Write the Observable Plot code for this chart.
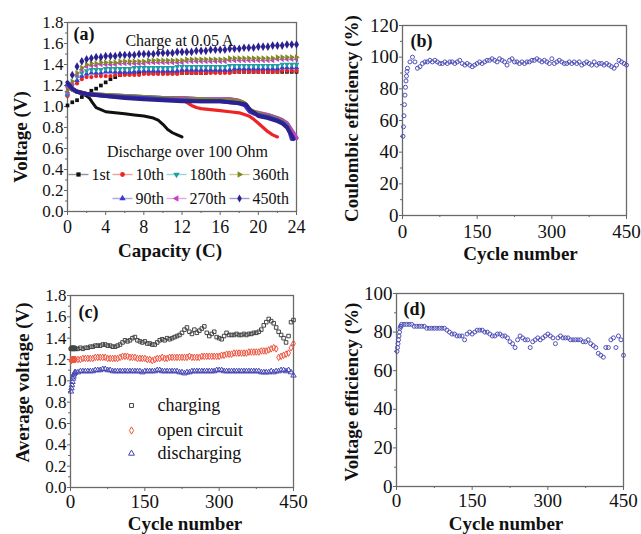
<!DOCTYPE html>
<html><head><meta charset="utf-8">
<script src="https://cdn.jsdelivr.net/npm/d3@7"></script>
<script src="https://cdn.jsdelivr.net/npm/@observablehq/plot@0.6"></script>
<style>
body{margin:0;background:#fff;}
#wrap{position:relative;width:641px;height:534px;overflow:hidden;background:#fff;}
#wrap svg{position:absolute;}
</style></head><body><div id="wrap"></div>
<script>
// ---------------- DATA ----------------
// Panel (a): charge curves sampled every 0.5 C
const capGrid = d3.range(0, 24.01, 0.5);
const chg1st = [1.01,1.04,1.06,1.09,1.12,1.15,1.17,1.20,1.23,1.26,
  1.28,1.30,1.31,1.31,1.32,1.32,1.32,1.32,1.32,1.32,
  1.32,1.32,1.32,1.32,1.32,1.32,1.32,1.32,1.32,1.32,
  1.33,1.33,1.33,1.33,1.33,1.33,1.33,1.33,1.33,1.33,
  1.33,1.33,1.33,1.33,1.33,1.33,1.33,1.33,1.33];
const chg10th = [1.10,1.16,1.22,1.26,1.28,1.28,1.29,1.29,1.29,1.29,
  1.30,1.30,1.30,1.30,1.30,1.30,1.31,1.31,1.31,1.31,
  1.31,1.31,1.31,1.31,1.32,1.32,1.32,1.32,1.32,1.32,
  1.32,1.32,1.32,1.32,1.32,1.33,1.33,1.33,1.33,1.33,
  1.33,1.33,1.33,1.33,1.33,1.34,1.34,1.34,1.34];
const chg90th = [1.12,1.18,1.25,1.29,1.31,1.32,1.32,1.32,1.33,1.33,
  1.33,1.33,1.33,1.33,1.33,1.34,1.34,1.34,1.34,1.34,
  1.34,1.34,1.34,1.34,1.35,1.35,1.35,1.35,1.35,1.35,
  1.35,1.35,1.35,1.35,1.35,1.36,1.36,1.36,1.36,1.36,
  1.36,1.36,1.36,1.36,1.36,1.37,1.37,1.37,1.37];
const chg180th = [1.12,1.20,1.28,1.32,1.34,1.35,1.35,1.35,1.36,1.36,
  1.36,1.36,1.36,1.36,1.37,1.37,1.37,1.37,1.37,1.37,
  1.37,1.37,1.37,1.38,1.38,1.38,1.38,1.38,1.38,1.38,
  1.38,1.38,1.38,1.38,1.39,1.39,1.39,1.39,1.39,1.39,
  1.39,1.39,1.39,1.39,1.39,1.40,1.40,1.40,1.40];
const chg270th = [1.14,1.22,1.30,1.35,1.38,1.39,1.39,1.40,1.40,1.40,
  1.40,1.41,1.41,1.41,1.41,1.41,1.41,1.42,1.42,1.42,
  1.42,1.42,1.42,1.42,1.42,1.43,1.43,1.43,1.43,1.43,
  1.43,1.43,1.43,1.43,1.44,1.44,1.44,1.44,1.44,1.44,
  1.44,1.44,1.44,1.44,1.45,1.45,1.45,1.45,1.45];
const chg360th = [1.16,1.24,1.32,1.37,1.40,1.41,1.41,1.42,1.42,1.42,
  1.42,1.43,1.43,1.43,1.43,1.43,1.43,1.44,1.44,1.44,
  1.44,1.44,1.44,1.44,1.44,1.45,1.45,1.45,1.45,1.45,
  1.45,1.45,1.45,1.45,1.46,1.46,1.46,1.46,1.46,1.46,
  1.46,1.46,1.46,1.46,1.47,1.47,1.47,1.47,1.47];
const chg450th = [1.20,1.30,1.38,1.43,1.45,1.46,1.47,1.47,1.48,1.48,
  1.48,1.49,1.49,1.49,1.49,1.50,1.50,1.50,1.50,1.51,
  1.51,1.51,1.51,1.52,1.52,1.52,1.52,1.53,1.53,1.53,
  1.54,1.54,1.54,1.54,1.55,1.55,1.55,1.56,1.56,1.56,
  1.57,1.57,1.57,1.58,1.58,1.58,1.59,1.59,1.59];

// Panel (a): discharge curves [capacity, voltage]
const dis1st = [[0,1.21],[0.5,1.17],[1,1.14],[1.5,1.12],[2,1.10],[2.3,1.08],[2.6,1.04],[3,0.99],[3.5,0.97],[4,0.95],[5,0.94],[6,0.93],[7,0.92],[8,0.91],[8.5,0.90],[9,0.89],[9.5,0.87],[10,0.83],[10.5,0.78],[11,0.75],[11.5,0.73],[12,0.71]];
const dis10th = [[0,1.20],[0.5,1.17],[1,1.15],[2,1.12],[3,1.11],[4,1.10],[6,1.09],[8,1.08],[10,1.07],[12,1.06],[12.5,1.04],[13,1.01],[13.5,0.99],[14,0.98],[15,0.97],[16,0.96],[17,0.95],[18,0.94],[19,0.91],[19.5,0.88],[20,0.84],[20.5,0.80],[21,0.76],[21.5,0.73],[22,0.71]];
const dis90th = [[0,1.21],[0.5,1.17],[1,1.14],[2,1.12],[4,1.10],[6,1.09],[8,1.08],[10,1.07],[12,1.06],[14,1.05],[16,1.05],[17,1.04],[18,1.03],[18.6,1.01],[19.1,0.95],[19.6,0.93],[20,0.92],[21,0.90],[22,0.87],[22.5,0.85],[23,0.81],[23.3,0.75],[23.5,0.69]];
const dis180th = [[0,1.19],[1,1.14],[2,1.12],[4,1.11],[6,1.10],[8,1.09],[10,1.08],[12,1.08],[14,1.07],[16,1.07],[17,1.07],[18,1.05],[18.6,1.02],[19.1,0.96],[19.6,0.94],[20,0.93],[21,0.92],[22,0.89],[22.5,0.87],[23,0.84],[23.5,0.77],[24,0.70]];
const dis270th = [[0,1.19],[0.5,1.16],[1,1.14],[2,1.12],[4,1.11],[6,1.10],[8,1.09],[10,1.08],[12,1.08],[14,1.07],[16,1.07],[17,1.07],[17.8,1.06],[18.4,1.04],[18.9,0.98],[19.4,0.95],[20,0.94],[21,0.92],[22,0.89],[22.5,0.87],[23,0.84],[23.5,0.77],[24,0.70]];
const dis360th = [[0,1.20],[0.5,1.16],[1,1.14],[2,1.12],[4,1.11],[6,1.10],[8,1.09],[10,1.08],[12,1.07],[14,1.07],[16,1.06],[17,1.06],[18,1.05],[18.6,1.03],[19.1,0.97],[19.6,0.95],[20,0.93],[21,0.91],[22,0.88],[22.5,0.86],[23,0.82],[23.3,0.76],[23.6,0.70]];
const dis450th = [[0,1.23],[0.5,1.17],[1,1.14],[2,1.12],[3,1.11],[4,1.10],[6,1.08],[8,1.07],[10,1.06],[12,1.05],[14,1.05],[16,1.05],[17,1.04],[18,1.03],[18.7,1.02],[19.2,0.96],[19.6,0.94],[20,0.91],[21,0.89],[22,0.86],[22.5,0.84],[23,0.80],[23.4,0.74],[23.7,0.69]];

const seriesNames = ["1st","10th","90th","180th","270th","360th","450th"];
const chargeSets = [chg1st, chg10th, chg90th, chg180th, chg270th, chg360th, chg450th];
const dischargeSets = [dis1st, dis10th, dis90th, dis180th, dis270th, dis360th, dis450th];

// Panels (b)-(d): cycle number grid
const cycles = [1,2,3,4,5,6,7,8,9,10].concat(d3.range(15, 451, 5));
const coulombic = [50,56,63,70,76,81,85,88,91,93,
  97,100,97,93,94,96,97,97,98,97,
  98,97,96,96,97,96,97,97,96,97,
  98,96,95,96,95,94,95,96,97,96,
  97,98,98,99,98,97,99,98,97,95,
  98,99,97,97,96,97,96,97,97,98,
  98,99,98,97,98,97,96,99,96,97,
  98,97,96,96,97,96,97,96,97,95,
  96,97,96,95,97,95,96,96,95,96,
  95,94,93,95,98,97,96,95];
const vCharging = [1.30,1.30,1.31,1.30,1.31,1.30,1.30,1.31,1.30,1.30,
  1.30,1.31,1.30,1.31,1.31,1.32,1.32,1.33,1.33,1.33,
  1.34,1.34,1.33,1.33,1.32,1.32,1.33,1.34,1.36,1.38,
  1.37,1.38,1.40,1.41,1.38,1.37,1.36,1.37,1.35,1.35,
  1.34,1.34,1.36,1.38,1.39,1.38,1.40,1.39,1.40,1.41,
  1.42,1.43,1.45,1.48,1.50,1.46,1.44,1.48,1.45,1.47,
  1.49,1.51,1.45,1.42,1.44,1.46,1.41,1.40,1.39,1.42,
  1.45,1.43,1.43,1.43,1.44,1.43,1.43,1.44,1.43,1.44,
  1.44,1.45,1.45,1.46,1.48,1.52,1.55,1.58,1.56,1.54,
  1.50,1.46,1.43,1.40,1.36,1.42,1.55,1.57];
const vOpen = [1.19,1.19,1.20,1.20,1.20,1.20,1.20,1.20,1.20,1.20,
  1.20,1.20,1.21,1.21,1.21,1.21,1.21,1.22,1.22,1.22,
  1.22,1.22,1.21,1.21,1.21,1.21,1.21,1.22,1.23,1.23,
  1.23,1.22,1.22,1.22,1.21,1.21,1.21,1.21,1.20,1.20,
  1.19,1.20,1.21,1.21,1.22,1.21,1.21,1.22,1.22,1.22,
  1.22,1.22,1.22,1.22,1.22,1.23,1.22,1.22,1.22,1.22,
  1.23,1.23,1.23,1.23,1.23,1.23,1.23,1.23,1.24,1.24,
  1.25,1.25,1.25,1.26,1.26,1.26,1.26,1.26,1.26,1.27,
  1.27,1.27,1.27,1.27,1.28,1.28,1.28,1.29,1.30,1.31,
  1.30,1.22,1.23,1.24,1.25,1.26,1.31,1.35];
const vDischarging = [0.90,0.93,0.96,0.99,1.02,1.04,1.06,1.07,1.08,1.08,
  1.08,1.09,1.09,1.09,1.09,1.09,1.09,1.10,1.10,1.10,
  1.11,1.11,1.10,1.10,1.09,1.09,1.09,1.09,1.09,1.09,
  1.09,1.09,1.09,1.09,1.09,1.09,1.08,1.09,1.09,1.09,
  1.09,1.09,1.10,1.10,1.09,1.09,1.09,1.09,1.09,1.09,
  1.09,1.08,1.08,1.07,1.08,1.08,1.09,1.09,1.09,1.09,
  1.09,1.09,1.09,1.09,1.09,1.09,1.10,1.10,1.10,1.09,
  1.09,1.09,1.09,1.09,1.09,1.09,1.09,1.09,1.09,1.09,
  1.09,1.09,1.09,1.09,1.08,1.08,1.08,1.08,1.09,1.08,
  1.09,1.09,1.10,1.10,1.09,1.10,1.08,1.05];
const voltEff = [70,72,74,76,78,80,82,83,83,84,
  84,84,84,84,83,83,83,83,83,82,
  82,82,82,82,82,82,82,81,80,79,
  79,78,78,78,76,79,80,79,80,81,
  81,81,80,80,79,78,78,79,79,78,
  78,77,75,74,72,76,78,77,76,76,
  72,75,76,77,76,77,78,79,78,77,
  74,77,78,77,77,77,76,76,76,76,
  76,75,75,76,74,73,72,69,68,67,
  72,72,76,77,72,78,76,68];

// tick values
const xTicksA = [0,4,8,12,16,20,24], xMinorA = [2,6,10,14,18,22];
const yTicksV = [0,0.2,0.4,0.6,0.8,1.0,1.2,1.4,1.6,1.8], yMinorV = [0.1,0.3,0.5,0.7,0.9,1.1,1.3,1.5,1.7];
const xTicksCyc = [0,150,300,450], xMinorCyc = [75,225,375];
const yTicksB = [0,20,40,60,80,100,120], yMinorB = [10,30,50,70,90,110];
const yTicksD = [0,20,40,60,80,100], yMinorD = [10,30,50,70,90];

// ---------------- STYLES ----------------
const FONT = '"Liberation Serif","Times New Roman",serif';
const styleA = {
  "1st":   {color:"#111111", symbol:"square",   rotate:0,   col:0, row:0},
  "10th":  {color:"#ee2424", symbol:"circle",   rotate:0,   col:1, row:0},
  "90th":  {color:"#3a3ad0", symbol:"triangle", rotate:0,   col:1, row:1},
  "180th": {color:"#1f9f9f", symbol:"triangle", rotate:180, col:2, row:0},
  "270th": {color:"#c440c4", symbol:"triangle", rotate:-90, col:2, row:1},
  "360th": {color:"#808a20", symbol:"triangle", rotate:90,  col:3, row:0},
  "450th": {color:"#2c228f", symbol:"diamond",  rotate:0,   col:3, row:1}
};
const legendColA = [11, 55, 109, 172];
const legendRowA = [152, 176];
const hline = {draw(ctx){ ctx.moveTo(-10,0); ctx.lineTo(10,0); }};

const cycSeries = [
  {name:"charging", values:vCharging, color:"#444444", symbol:"square"},
  {name:"open circuit", values:vOpen, color:"#ee5540", symbol:"diamond"},
  {name:"discharging", values:vDischarging, color:"#4646b4", symbol:"triangle"}
];
const legendRowC = [110, 135, 158];
const blueDot = "#5050b8";

// ---------------- PANEL BUILDER ----------------
const wrap = document.getElementById("wrap");
function panel(cfg){
  const marks = [
    Plot.frame({stroke:"#6a6a6a", strokeWidth:1.3}),
    Plot.axisX(cfg.xMinor, {tickSize:2, tickFormat:()=>"", label:null, stroke:"#666"}),
    Plot.axisY(cfg.yMinor, {tickSize:2, tickFormat:()=>"", label:null, stroke:"#666"}),
    Plot.axisX(cfg.xTicks, {tickSize:4, tickPadding:cfg.xPad, fontSize:cfg.xFont, label:null, stroke:"#666", tickFormat:d=>String(d)}),
    Plot.axisY(cfg.yTicks, {tickSize:3, tickPadding:1, fontSize:cfg.yFont, label:null, stroke:"#666", tickFormat:cfg.yFmt}),
    ...cfg.marks,
    Plot.text([cfg.xTitle], {text:d=>d, frameAnchor:"bottom", textAnchor:"middle", lineAnchor:"middle", dx:cfg.xt[0], dy:cfg.xt[1], fontSize:19, fontWeight:"bold", ariaLabel:"x-title"}),
    Plot.text([cfg.yTitle], {text:d=>d, frameAnchor:"left", textAnchor:"middle", lineAnchor:"middle", rotate:-90, dx:cfg.yt[0], dy:cfg.yt[1], fontSize:19, fontWeight:"bold", ariaLabel:"y-title"}),
    Plot.text([cfg.tag], {text:d=>d, frameAnchor:"top-left", textAnchor:"start", lineAnchor:"middle", dx:cfg.tagPos[0], dy:cfg.tagPos[1], fontSize:18, fontWeight:"bold"})
  ];
  const svg = Plot.plot({
    width: cfg.w, height: cfg.h,
    marginTop: cfg.m[0], marginRight: cfg.m[1], marginBottom: cfg.m[2], marginLeft: cfg.m[3],
    x: {domain: cfg.xDomain},
    y: {domain: cfg.yDomain},
    style: {fontFamily: FONT, fontSize: "17px", color: "#111", background: "transparent", overflow: "visible"},
    marks
  });
  svg.style.left = cfg.left + "px";
  svg.style.top = cfg.top + "px";
  const xt = svg.querySelector('g[aria-label="x-title"] text');
  if (xt && cfg.xLen) { xt.setAttribute("textLength", cfg.xLen); xt.setAttribute("lengthAdjust", "spacingAndGlyphs"); }
  const yt = svg.querySelector('g[aria-label="y-title"] text');
  if (yt && cfg.yLen) { yt.setAttribute("textLength", cfg.yLen); yt.setAttribute("lengthAdjust", "spacingAndGlyphs"); }
  wrap.appendChild(svg);
}

// ---------------- PANEL (a) ----------------
const marksA = [];
seriesNames.forEach((name, k) => {
  const s = styleA[name];
  const pts = capGrid.map((c, i) => ({cap: c, v: chargeSets[k][i]}));
  marksA.push(Plot.dot(pts, {x:"cap", y:"v", symbol:s.symbol, rotate:s.rotate, fill:s.color, r: s.symbol === "diamond" ? 2.6 : 2.1}));
});
const lineOrder = ["1st","10th","180th","270th","360th","90th","450th"];
lineOrder.forEach(name => {
  const k = seriesNames.indexOf(name);
  const s = styleA[name];
  marksA.push(Plot.line(dischargeSets[k], {x:d=>d[0], y:d=>d[1], stroke:s.color, strokeWidth: name === "1st" ? 3 : (name === "10th" ? 3.2 : 4), strokeLinejoin:"round"}));
});
marksA.push(Plot.text(["Charge at 0.05 A"], {text:d=>d, frameAnchor:"top-left", textAnchor:"middle", lineAnchor:"middle", dx:112, dy:18, fontSize:16}));
marksA.push(Plot.text(["Discharge over 100 Ohm"], {text:d=>d, frameAnchor:"top-left", textAnchor:"middle", lineAnchor:"middle", dx:120, dy:129, fontSize:16}));
seriesNames.forEach(name => {
  const s = styleA[name];
  const dx = legendColA[s.col], dy = legendRowA[s.row];
  marksA.push(Plot.dot([name], {frameAnchor:"top-left", dx, dy, symbol:hline, stroke:s.color, strokeWidth:1.4, strokeOpacity:0.45}));
  marksA.push(Plot.dot([name], {frameAnchor:"top-left", dx, dy, symbol:s.symbol, rotate:s.rotate, fill:s.color, r:2.4}));
  marksA.push(Plot.text([name], {text:d=>d, frameAnchor:"top-left", textAnchor:"start", lineAnchor:"middle", dx:dx + 13, dy, fontSize:16}));
});
panel({left:0, top:0, w:320, h:268, m:[22,24,57,67], xDomain:[0,24], yDomain:[0,1.8],
  xTicks:xTicksA, xMinor:xMinorA, yTicks:yTicksV, yMinor:yMinorV, yFmt:d3.format(".1f"),
  xFont:18, yFont:17, xPad:5,
  xTitle:"Capacity (C)", xt:[-12,39], xLen:115,
  yTitle:"Voltage (V)", yt:[-47,20], yLen:136,
  tag:"(a)", tagPos:[6,12], marks:marksA});

// ---------------- PANEL (b) ----------------
const ptsB = cycles.map((c, i) => ({cycle:c, ce:coulombic[i]}));
panel({left:320, top:0, w:321, h:268, m:[25,15,53,82], xDomain:[0,450], yDomain:[0,120],
  xTicks:xTicksCyc, xMinor:xMinorCyc, yTicks:yTicksB, yMinor:yMinorB, yFmt:d=>String(d),
  xFont:19, yFont:19, xPad:5,
  xTitle:"Cycle number", xt:[6,38], xLen:107,
  yTitle:"Coulombic efficiency (%)", yt:[-51,-2], yLen:207,
  tag:"(b)", tagPos:[8,16],
  marks:[Plot.dot(ptsB, {x:"cycle", y:"ce", r:2, stroke:blueDot, strokeWidth:1, fill:"none"})]});

// ---------------- PANEL (c) ----------------
const marksC = [];
cycSeries.forEach((s, k) => {
  const pts = cycles.map((c, i) => ({cycle:c, v:s.values[i]}));
  marksC.push(Plot.dot(pts, {x:"cycle", y:"v", symbol:s.symbol, r:2, stroke:s.color, strokeWidth:1, fill:"none"}));
  marksC.push(Plot.dot([s.name], {frameAnchor:"top-left", dx:61, dy:legendRowC[k], symbol:s.symbol, r:2.2, stroke:s.color, strokeWidth:1, fill:"none"}));
  marksC.push(Plot.text([s.name], {text:d=>d, frameAnchor:"top-left", textAnchor:"start", lineAnchor:"middle", dx:87, dy:legendRowC[k], fontSize:18}));
});
panel({left:0, top:268, w:320, h:266, m:[27,27,47,70], xDomain:[0,450], yDomain:[0,1.8],
  xTicks:xTicksCyc, xMinor:xMinorCyc, yTicks:yTicksV, yMinor:yMinorV, yFmt:d3.format(".1f"),
  xFont:19, yFont:17, xPad:3,
  xTitle:"Cycle number", xt:[3,36], xLen:113,
  yTitle:"Average voltage (V)", yt:[-48,-9], yLen:175,
  tag:"(c)", tagPos:[8,17], marks:marksC});

// ---------------- PANEL (d) ----------------
const ptsD = cycles.map((c, i) => ({cycle:c, ve:voltEff[i]}));
panel({left:320, top:268, w:321, h:266, m:[25,18,48,76], xDomain:[0,450], yDomain:[0,100],
  xTicks:xTicksCyc, xMinor:xMinorCyc, yTicks:yTicksD, yMinor:yMinorD, yFmt:d=>String(d),
  xFont:19, yFont:19, xPad:3,
  xTitle:"Cycle number", xt:[-4,37], xLen:110,
  yTitle:"Voltage efficiency (%)", yt:[-45,2], yLen:185,
  tag:"(d)", tagPos:[7,16],
  marks:[Plot.dot(ptsD, {x:"cycle", y:"ve", r:2, stroke:blueDot, strokeWidth:1, fill:"none"})]});
</script></body></html>
